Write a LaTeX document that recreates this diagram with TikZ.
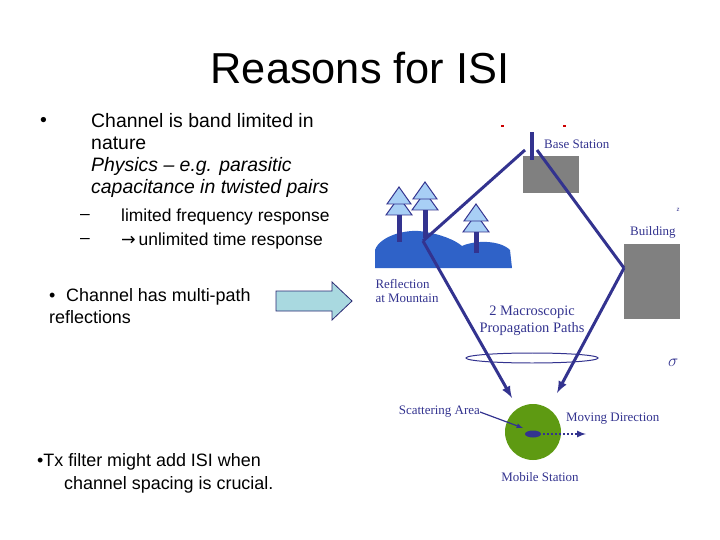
\documentclass[tikz,border=0pt]{standalone}
\usepackage{fontspec}
\setmainfont{Liberation Sans}
\newfontfamily\serifx{Liberation Serif}
\begin{document}
\begin{tikzpicture}[x=1bp,y=-1bp,
  txt/.style={anchor=west,inner sep=0,font=\fontsize{19.5}{22}\selectfont},
  lbl/.style={inner sep=0,text=navyc,font=\serifx\fontsize{13}{15}\selectfont,align=center},
  path/.style={draw=navyc,line width=3pt},
  tree/.style={fill=treec,draw=navyc,line width=1pt}]
\definecolor{navyc}{HTML}{33338F}
\definecolor{treec}{HTML}{A8CFF5}
\definecolor{mount}{HTML}{2F62C8}
\definecolor{greyb}{HTML}{808080}
\definecolor{greenm}{HTML}{5E9A12}
\definecolor{arrc}{HTML}{A9D9E0}
\useasboundingbox (0,0) rectangle (720,540);
\node[inner sep=0,font=\fontsize{43.5}{50}\selectfont] (title) at (360,68) {Reasons for ISI};
% left texts
\node[txt] (b1) at (40,122) {•};
\node[txt,anchor=north west,align=left] (t1) at (91,113) {Channel is band limited in\\nature\\\textit{Physics -- e.g. parasitic}\\\textit{capacitance in twisted pairs}};
\node[txt,font=\fontsize{17.5}{20}\selectfont] (d1) at (80,217) {--};
\node[txt,font=\fontsize{17.5}{20}\selectfont] (d2) at (80,241) {--};
\node[txt,font=\fontsize{17.5}{20}\selectfont] (s1) at (121,217) {limited frequency response};
\node[txt,font=\fontsize{17.5}{20}\selectfont] (s2) at (121,241) {\fontspec{DejaVu Sans}→\,\fontspec{Liberation Sans}unlimited time response};
\node[txt,anchor=north west,align=left,font=\fontsize{18}{22}\selectfont] (t2) at (49,288) {•\hspace{0.6em}Channel has multi-path\\reflections};
\node[txt,anchor=north west,align=left,font=\fontsize{18}{23}\selectfont] (t3) at (37,453) {•Tx filter might add ISI when\\\hspace{1.5em}channel spacing is crucial.};
% block arrow
\draw[draw=navyc!80!black,fill=arrc,line width=0.8pt] (276,291) -- (332,291) -- (332,282) -- (352,301) -- (332,320) -- (332,311) -- (276,311) -- cycle;
% buildings
\fill[greyb] (523,156) rectangle (579,193);
\fill[greyb] (624,244) rectangle (680,319);
% mountain
\fill[mount] (375,268) -- (375,250) .. controls (380,235) and (410,228) .. (425,232) .. controls (440,234) and (455,240) .. (462,246) .. controls (475,240) and (500,240) .. (510,250) -- (512,268) -- cycle;
% trees
\foreach \x/\ty/\tb in {399/187/242, 425/182/238, 476/204/253}{
  \fill[navyc] (\x-2.5,\ty+20) rectangle (\x+2.5,\tb);
  \draw[tree] (\x,\ty+10) -- (\x+13,\ty+28) -- (\x-13,\ty+28) -- cycle;
  \draw[tree] (\x,\ty) -- (\x+12,\ty+17) -- (\x-12,\ty+17) -- cycle;
}
% antenna
\fill[navyc] (530,132) rectangle (534,160);
\coordinate (bs1) at (525,150);
\coordinate (bs2) at (537,150);
\coordinate (mref) at (423,241);
\coordinate (bref) at (624,268);
\coordinate (ms1) at (512,398);
\coordinate (ms2) at (557,393);
\draw[path] (bs1) -- (mref);
\draw[path,-latex] (mref) -- (ms1);
\draw[path] (bs2) -- (bref);
\draw[path,-latex] (bref) -- (ms2);
% ellipse ring
\draw[navyc,line width=1pt] (532,358) ellipse (66 and 5);
% mobile
\fill[greenm] (533,432) circle (28);
\fill[navyc] (533,434) ellipse (8 and 3.5);
\draw[navyc,line width=2pt,dotted,-latex] (543,434) -- (586,434);
\node[lbl,anchor=east] (sc) at (480,412) {Scattering Area};
\draw[navyc,line width=1.2pt,-latex] (sc.east) -- (523,428);
% labels
\node[lbl,anchor=west] (bsl) at (544,144) {Base Station};
\node[lbl,anchor=west] (bdl) at (630,232) {Building};
\node[lbl,align=left] (rm) at (407,291) {Reflection\\at Mountain};
\node[lbl,font=\serifx\fontsize{14.5}{17}\selectfont] (mp) at (532,321) {2 Macroscopic\\Propagation Paths};
\node[lbl,anchor=west] (md) at (566,419) {Moving Direction};
\node[lbl] (msl) at (540,477) {Mobile Station};
\node[lbl,text=navyc,anchor=west,font=\fontsize{16}{18}\selectfont] (sig) at (668,363) {$\sigma$};
\node[inner sep=0,font=\fontsize{6}{7}\selectfont,text=navyc] (z) at (678,210) {z};
\fill[red!80!black] (501,125) rectangle (504,127);
\fill[red!80!black] (563,125) rectangle (566,127);
\end{tikzpicture}
\end{document}
